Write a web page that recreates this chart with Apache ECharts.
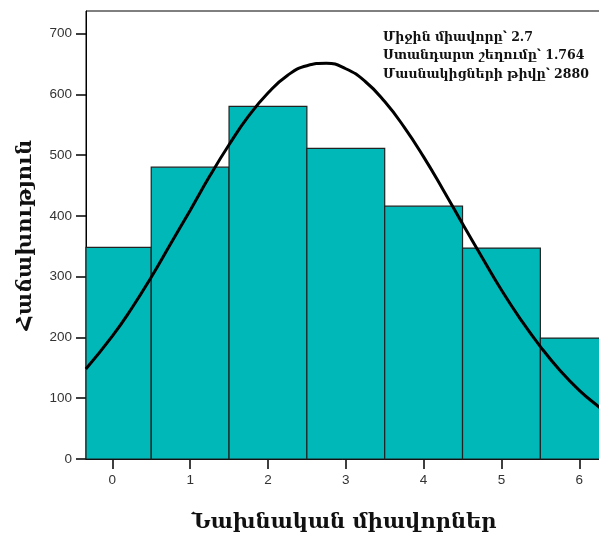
<!DOCTYPE html>
<html><head><meta charset="utf-8">
<script src="https://cdn.jsdelivr.net/npm/echarts@6/dist/echarts.min.js"></script>
<style>html,body{margin:0;padding:0;background:#fff}#c{width:599px;height:533px}</style>
</head><body><div id="c"></div>
<script>
// Data
const binCenters = [0, 1, 2, 3, 4, 5, 6];
const binCounts = [348, 480, 580, 511, 416, 347, 199];
const curveX = [-0.34, 0, 0.25, 0.5, 0.75, 1, 1.25, 1.5, 1.75, 2, 2.25, 2.5, 2.75, 3, 3.25, 3.5, 3.75, 4, 4.25, 4.5, 4.75, 5, 5.25, 5.5, 5.75, 6, 6.25, 6.35];
const curveY = [148, 202, 248, 299, 354, 409, 465, 517, 564, 602, 631, 647, 651, 642, 621, 588, 546, 497, 443, 387, 332, 278, 229, 185, 146, 113, 86, 77];
const xTicks = [0, 1, 2, 3, 4, 5, 6];
const yTicks = [0, 100, 200, 300, 400, 500, 600, 700];
const statLines = ['Միջին միավորը՝ 2.7', 'Ստանդարտ շեղումը՝ 1.764', 'Մասնակիցների թիվը՝ 2880'];
const xName = 'Նախնական միավորներ';
const yName = 'Հաճախություն';

const chart = echarts.init(document.getElementById('c'), null, {renderer: 'canvas'});
const labelStyle = {color: '#333', fontFamily: 'Liberation Sans, Arial, sans-serif', fontSize: 13.5};
chart.setOption({
  backgroundColor: '#fff',
  animation: false,
  grid: {left: 86, right: -3, top: 11, bottom: 74, show: true, borderColor: '#000', borderWidth: 1, backgroundColor: '#fff', containLabel: false, outerBoundsMode: 'none'},
  xAxis: {
    type: 'value', min: -0.338, max: 6.292,
    name: xName, nameLocation: 'middle', nameGap: 53,
    nameTextStyle: {fontFamily: 'DejaVu Serif', fontWeight: 'bold', fontSize: 21, color: '#111'},
    axisLine: {show: true, onZero: false, lineStyle: {color: '#000', width: 1}},
    axisTick: {show: true, length: 10, lineStyle: {color: '#000', width: 1.5}, customValues: xTicks},
    axisLabel: Object.assign({margin: 14, customValues: xTicks}, labelStyle),
    splitLine: {show: false}
  },
  yAxis: {
    type: 'value', min: 0, max: 737,
    name: yName, nameLocation: 'middle', nameGap: 50,
    nameTextStyle: {fontFamily: 'DejaVu Serif', fontWeight: 'bold', fontSize: 21, color: '#111'},
    axisLine: {show: true, onZero: false, lineStyle: {color: '#000', width: 1}},
    axisTick: {show: true, length: 10, lineStyle: {color: '#000', width: 1.5}, customValues: yTicks},
    axisLabel: Object.assign({margin: 14, customValues: yTicks}, labelStyle),
    splitLine: {show: false}
  },
  graphic: statLines.map((t, i) => ({
    type: 'text', left: 383, top: 31 + i * 18.5,
    style: {text: t, fontFamily: 'DejaVu Serif', fontWeight: 'bold', fontSize: 12.5, fill: '#111'}
  })),
  series: [
    {
      type: 'custom',
      data: binCenters.map((c, i) => [c, binCounts[i]]),
      renderItem: function (params, api) {
        const c = api.value(0), v = api.value(1);
        const p1 = api.coord([c - 0.5, v]);
        const p2 = api.coord([c + 0.5, 0]);
        const shape = echarts.graphic.clipRectByRect(
          {x: p1[0], y: p1[1], width: p2[0] - p1[0], height: p2[1] - p1[1]},
          {x: params.coordSys.x, y: params.coordSys.y, width: params.coordSys.width, height: params.coordSys.height});
        return shape && {type: 'rect', shape: shape, style: {fill: '#00B8B8', stroke: '#222', lineWidth: 1.2}};
      },
      z: 2
    },
    {
      type: 'line', data: curveX.map((x, i) => [x, curveY[i]]),
      smooth: 0.5, showSymbol: false, lineStyle: {color: '#000', width: 3}, z: 3
    }
  ]
});
</script></body></html>
